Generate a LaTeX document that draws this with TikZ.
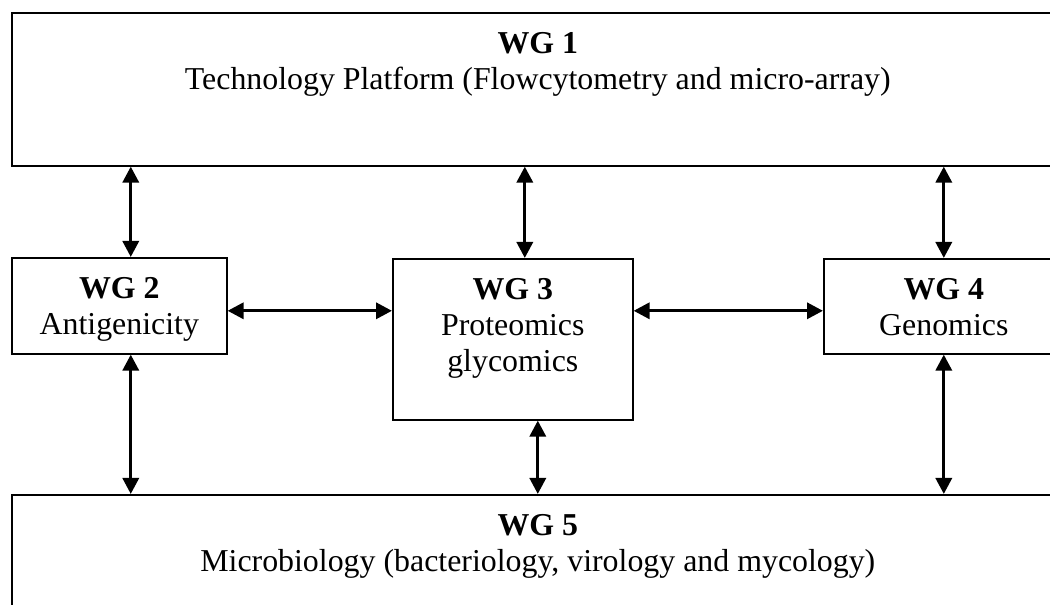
\documentclass[tikz,border=0pt]{standalone}
\usepackage{fontspec}
\setmainfont{Liberation Serif}
\usetikzlibrary{arrows.meta}

\tikzset{
  wgbox/.style={draw, line width=1.2pt, inner sep=0pt, anchor=north west},
  wgtext/.style={anchor=north, align=center, inner sep=0pt, yshift=-15pt,
    font=\fontsize{23.9}{27}\selectfont},
  link/.style={{Triangle[length=12pt,width=12pt]}-{Triangle[length=12pt,width=12pt]},
    line width=2.5pt},
}

\begin{document}
\begin{tikzpicture}[x=0.75pt, y=-0.75pt]
  \useasboundingbox (0,0) rectangle (1050,605);

  % Define boxes
  \node[wgbox, minimum width=789pt, minimum height=114.75pt] (wg1) at (11,12) {};
  \node[wgbox, minimum width=161.25pt, minimum height=72pt] (wg2) at (11,257) {};
  \node[wgbox, minimum width=180pt, minimum height=120.75pt] (wg3) at (392,258) {};
  \node[wgbox, minimum width=180pt, minimum height=71.25pt] (wg4) at (823,258) {};
  \node[wgbox, minimum width=789pt, minimum height=90pt] (wg5) at (11,494) {};

  % Box texts
  \node[wgtext] (t1) at (wg1.north) {\textbf{WG 1}\\Technology Platform (Flowcytometry and micro-array)};
  \node[wgtext] (t2) at (wg2.north) {\textbf{WG 2}\\Antigenicity};
  \node[wgtext] (t3) at (wg3.north) {\textbf{WG 3}\\Proteomics\\glycomics};
  \node[wgtext] (t4) at (wg4.north) {\textbf{WG 4}\\Genomics};
  \node[wgtext] (t5) at (wg5.north) {\textbf{WG 5}\\Microbiology (bacteriology, virology and mycology)};

  % Arrow end points
  \coordinate (u2) at ([xshift=8.6pt]wg2.north);
  \coordinate (u3) at ([xshift=9pt]wg3.north);
  \coordinate (u4) at (wg4.north);
  \coordinate (l2) at ([xshift=8.6pt]wg2.south);
  \coordinate (l3) at ([xshift=18.75pt]wg3.south);
  \coordinate (l4) at (wg4.south);
  \coordinate (h2) at ([yshift=-3.75pt]wg2.east);
  \coordinate (h3) at (h2 -| wg3.east);

  % Connect the boxes
  \draw[link] (u2) -- (u2 |- wg1.south);
  \draw[link] (u3) -- (u3 |- wg1.south);
  \draw[link] (u4) -- (u4 |- wg1.south);
  \draw[link] (l2) -- (l2 |- wg5.north);
  \draw[link] (l3) -- (l3 |- wg5.north);
  \draw[link] (l4) -- (l4 |- wg5.north);
  \draw[link] (h2) -- (h2 -| wg3.west);
  \draw[link] (h3) -- (h3 -| wg4.west);

\end{tikzpicture}
\end{document}
